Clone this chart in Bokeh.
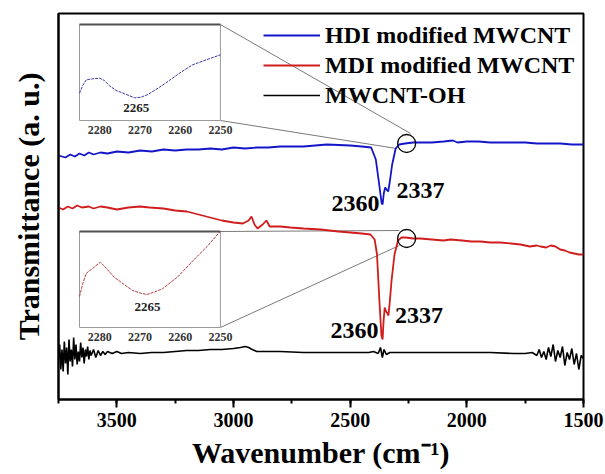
import numpy as np
from bokeh.plotting import figure
from bokeh.models import Range1d, SingleIntervalTicker, FixedTicker, Legend, LegendItem
from bokeh.embed import file_html
from bokeh.resources import INLINE
from bokeh.core.properties import value

# ---------------- data (wavenumber in cm-1, transmittance in a.u.) ----------------
hdi_wn = [3750, 3720, 3700, 3680, 3660, 3640, 3620, 3600, 3570, 3540, 3500, 3450, 3400, 3350,
          3300, 3250, 3200, 3150, 3100, 3050, 3000, 2950, 2900, 2850, 2800, 2700, 2600, 2500,
          2450, 2410, 2390, 2375, 2365, 2361, 2356, 2350, 2344, 2337, 2330, 2320, 2305, 2290,
          2265, 2230, 2200, 2150, 2100, 2060, 2040, 2000, 1950, 1900, 1850, 1800, 1750, 1700,
          1650, 1600, 1550, 1500]
hdi_t = [244, 242, 245, 243, 246, 244, 247, 245, 247, 246, 248, 247, 249, 248,
         250, 249, 250, 250, 251, 250, 252, 251, 252, 252, 253, 253, 255, 254,
         253, 252, 240, 214, 196, 195, 206, 212, 210, 208, 218, 235, 251, 255,
         256, 257, 257, 257, 258, 259, 257, 258, 258, 257, 257, 257, 257, 256,
         256, 256, 255, 255]

mdi_wn = [3750, 3730, 3710, 3690, 3670, 3650, 3620, 3600, 3570, 3540, 3500, 3450, 3400, 3360,
          3300, 3250, 3200, 3150, 3100, 3050, 3000, 2960, 2935, 2923, 2910, 2897, 2875, 2859,
          2845, 2833, 2800, 2756, 2700, 2627, 2550, 2499, 2450, 2413, 2395, 2385, 2375, 2366,
          2361, 2357, 2352, 2346, 2340, 2336, 2330, 2323, 2310, 2295, 2280, 2263, 2230, 2199,
          2150, 2100, 2070, 2020, 1980, 1941, 1900, 1856, 1810, 1770, 1730, 1700, 1684, 1660,
          1640, 1620, 1600, 1580, 1560, 1540, 1520, 1500]
mdi_t = [192, 190, 193, 191, 194, 192, 193, 191, 193, 192, 190, 192, 193, 192,
         191, 189, 188, 185, 182, 179, 177, 176, 179, 183, 175, 171, 175, 179,
         173, 173, 173, 172, 171, 170, 168, 167, 166, 165, 160, 145, 100, 64,
         60, 78, 92, 88, 86, 84, 98, 118, 145, 159, 162, 162, 161, 161,
         160, 159, 160, 159, 158, 158, 157, 157, 156, 155, 153, 154, 153, 152,
         154, 153, 150, 149, 147, 146, 145, 145]

oh_wn = [3750, 3745, 3740, 3735, 3730, 3725, 3720, 3715, 3710, 3705, 3700, 3695, 3690, 3685,
         3680, 3675, 3670, 3665, 3660, 3655, 3650, 3645, 3640, 3635, 3630, 3625, 3620, 3615,
         3610, 3600, 3590, 3580, 3570, 3560, 3550, 3540, 3520, 3500, 3480, 3450, 3400, 3350,
         3300, 3250, 3200, 3150, 3100, 3050, 3000, 2970, 2950, 2935, 2920, 2900, 2850, 2800,
         2700, 2600, 2500, 2420, 2400, 2380, 2370, 2362, 2355, 2345, 2330, 2300, 2250, 2200,
         2100, 2000, 1900, 1800, 1750, 1720, 1700, 1690, 1680, 1670, 1660, 1650, 1640, 1630,
         1620, 1610, 1600, 1590, 1580, 1570, 1560, 1550, 1540, 1530, 1520, 1510, 1500]
oh_t = [40, 55, 30, 50, 28, 58, 36, 52, 25, 60, 38, 50, 33, 62,
        40, 55, 35, 48, 38, 57, 42, 52, 36, 50, 43, 53, 40, 49,
        44, 50, 42, 49, 44, 48, 45, 48, 46, 48, 46, 47, 46, 47,
        47, 48, 49, 49, 50, 50, 51, 52, 53, 52, 50, 48, 48, 48,
        47, 47, 47, 47, 48, 46, 52, 42, 50, 45, 47, 47, 47, 47,
        47, 47, 47, 46, 46, 47, 44, 50, 42, 48, 40, 52, 43, 55,
        38, 49, 42, 53, 34, 47, 40, 51, 35, 46, 30, 44, 41]

# insets (zoom of 2285-2250 cm-1)
ins_hdi_wn = [2285.0, 2284.2, 2283.3, 2281.7, 2280.0, 2278.8, 2277.6, 2275.9, 2273.8, 2271.3,
              2269.7, 2268.0, 2265.1, 2262.7, 2259.8, 2256.9, 2253.5, 2250.0]
ins_hdi_t = [27.3, 35, 40.7, 41.7, 42.3, 40, 35, 30, 26.7, 22.7,
             23.3, 26, 33.3, 40, 48.3, 55.7, 60.7, 65.7]
ins_mdi_wn = [2285.0, 2284.2, 2283.3, 2281.7, 2279.8, 2278.0, 2276.4, 2273.9, 2271.8, 2269.8,
              2268.3, 2266.5, 2264.4, 2260.7, 2256.6, 2253.3, 2250.0]
ins_mdi_t = [31, 43.7, 54.3, 59.3, 65.3, 57.7, 50.3, 43, 37, 34.3,
             33, 35.3, 38.7, 50.3, 67.7, 81, 96.3]
ins_ticks = [2280, 2270, 2260, 2250]
ins_x = [2285, 2250]
ins_y = [0, 96]

series_names = ["HDI modified MWCNT", "MDI modified MWCNT", "MWCNT-OH"]
peak_labels = ["2360", "2337"]
x_title = "Wavenumber (cm\u207b\u00b9)"
y_title = "Transmittance (a. u.)"

# ---------------- layout constants ----------------
FONT = "Liberation Serif"
BLUE, RED, BLACK = "#1414c8", "#d01c1c", "#000000"
X0, X1, Y0, Y1 = 3750, 1500, 0, 386
# inset boxes in main coordinates: (x_left, x_right, y_bottom, y_top)
UP_BOX = (3660, 3056, 279, 375)
LO_BOX = (3660, 3056, 72, 168)

p = figure(width=605, height=474, output_backend="svg", toolbar_location=None,
           x_range=Range1d(X0, X1), y_range=Range1d(Y0, Y1),
           min_border_left=58, min_border_right=22, min_border_top=13, min_border_bottom=75)
p.grid.visible = False
p.outline_line_color = "black"
p.outline_line_width = 2
p.background_fill_color = "white"
p.border_fill_color = "white"

ax = p.xaxis[0]
ax.ticker = SingleIntervalTicker(interval=500, num_minor_ticks=2)
ax.major_tick_out = 8
ax.major_tick_in = 0
ax.minor_tick_out = 4
ax.minor_tick_in = 0
ax.axis_line_width = 2
ax.major_tick_line_width = 2
ax.minor_tick_line_width = 2
ax.major_label_text_font = FONT
ax.major_label_text_font_style = "bold"
ax.major_label_text_font_size = "20px"
ax.major_label_text_color = "black"
ax.major_label_standoff = 5
ax.axis_label = x_title
ax.axis_label_text_font = FONT
ax.axis_label_text_font_style = "bold"
ax.axis_label_text_font_size = "30px"
ax.axis_label_text_color = "black"
ax.axis_label_standoff = 6

ay = p.yaxis[0]
ay.ticker = FixedTicker(ticks=[])
ay.major_tick_out = 0
ay.major_tick_in = 0
ay.minor_tick_out = 0
ay.minor_tick_in = 0
ay.major_label_standoff = 0
ay.axis_line_width = 2
ay.axis_label = y_title
ay.axis_label_text_font = FONT
ay.axis_label_text_font_style = "bold"
ay.axis_label_text_font_size = "30px"
ay.axis_label_text_color = "black"
ay.axis_label_standoff = 14


def inset_ranges(box):
    xl, xr, yb, yt = box
    k = (ins_x[0] - ins_x[1]) / (xl - xr)
    xs = Range1d(ins_x[0] + (X0 - xl) * k, ins_x[0] + (X1 - xl) * k)
    ky = (ins_y[1] - ins_y[0]) / (yt - yb)
    ys = Range1d(ins_y[0] + (Y0 - yb) * ky, ins_y[0] + (Y1 - yb) * ky)
    return xs, ys


ux, uy = inset_ranges(UP_BOX)
lx, ly = inset_ranges(LO_BOX)
p.extra_x_ranges = {"ux": ux, "lx": lx}
p.extra_y_ranges = {"uy": uy, "ly": ly}

# connectors and zoom circles (main coordinates)
circ_wn = [2258, 2258]
circ_t = [256, 161]
p.segment(x0=[UP_BOX[1], UP_BOX[1], LO_BOX[1], LO_BOX[1]],
          y0=[UP_BOX[3], UP_BOX[2], LO_BOX[3], LO_BOX[2]],
          x1=[2241, 2301, 2289, 2289], y1=[266, 251, 169, 154],
          line_color="#7a7a7a", line_width=1)

# main curves
r_hdi = p.line(hdi_wn, hdi_t, line_color=BLUE, line_width=1.8)
r_mdi = p.line(mdi_wn, mdi_t, line_color=RED, line_width=1.8)
r_oh = p.line(oh_wn, oh_t, line_color=BLACK, line_width=1.6)

p.scatter(circ_wn, circ_t, marker="circle", size=18, fill_color=None,
          line_color="black", line_width=1.3)

# insets
for xr_name, yr_name, wn, t, col in [("ux", "uy", ins_hdi_wn, ins_hdi_t, "#3a3aa8"),
                                     ("lx", "ly", ins_mdi_wn, ins_mdi_t, "#b03a3a")]:
    p.quad(left=ins_x[0], right=ins_x[1], bottom=ins_y[0], top=ins_y[1],
           x_range_name=xr_name, y_range_name=yr_name,
           fill_color="white", line_color="#9a9a9a", line_width=1)
    p.line(ins_x, [ins_y[1], ins_y[1]], x_range_name=xr_name, y_range_name=yr_name,
           line_color="#505050", line_width=2)
    p.line(wn, t, x_range_name=xr_name, y_range_name=yr_name,
           line_color=col, line_width=1, line_dash="3 1")
    p.text(x=ins_ticks, y=[-9] * len(ins_ticks), text=[str(v) for v in ins_ticks],
           x_range_name=xr_name, y_range_name=yr_name,
           text_font=value(FONT), text_font_style="bold", text_font_size="12px",
           text_color="#333333", text_align="center", text_baseline="middle")

p.text(x=[2270.9], y=[13], text=["2265"], x_range_name="ux", y_range_name="uy",
       text_font=value(FONT), text_font_style="bold", text_font_size="13px",
       text_color="#222222", text_align="center", text_baseline="middle")
p.text(x=[2268.1], y=[21], text=["2265"], x_range_name="lx", y_range_name="ly",
       text_font=value(FONT), text_font_style="bold", text_font_size="13px",
       text_color="#222222", text_align="center", text_baseline="middle")

# peak labels
p.text(x=[2477, 2199, 2481, 2205], y=[196, 209, 69, 84],
       text=[peak_labels[0], peak_labels[1], peak_labels[0], peak_labels[1]],
       text_font=value(FONT), text_font_style="bold", text_font_size="24px",
       text_color="black", text_align="center", text_baseline="middle")

# legend
legend = Legend(items=[LegendItem(label=series_names[0], renderers=[r_hdi]),
                       LegendItem(label=series_names[1], renderers=[r_mdi]),
                       LegendItem(label=series_names[2], renderers=[r_oh])],
                location=(205, 289), glyph_width=57, glyph_height=30, label_height=30,
                spacing=0, padding=0, margin=0, label_standoff=5,
                border_line_color=None, background_fill_alpha=0,
                label_text_font=FONT, label_text_font_style="bold",
                label_text_font_size="24px", label_text_color="black")
p.add_layout(legend)

open("out.html", "w").write(file_html(p, INLINE))
